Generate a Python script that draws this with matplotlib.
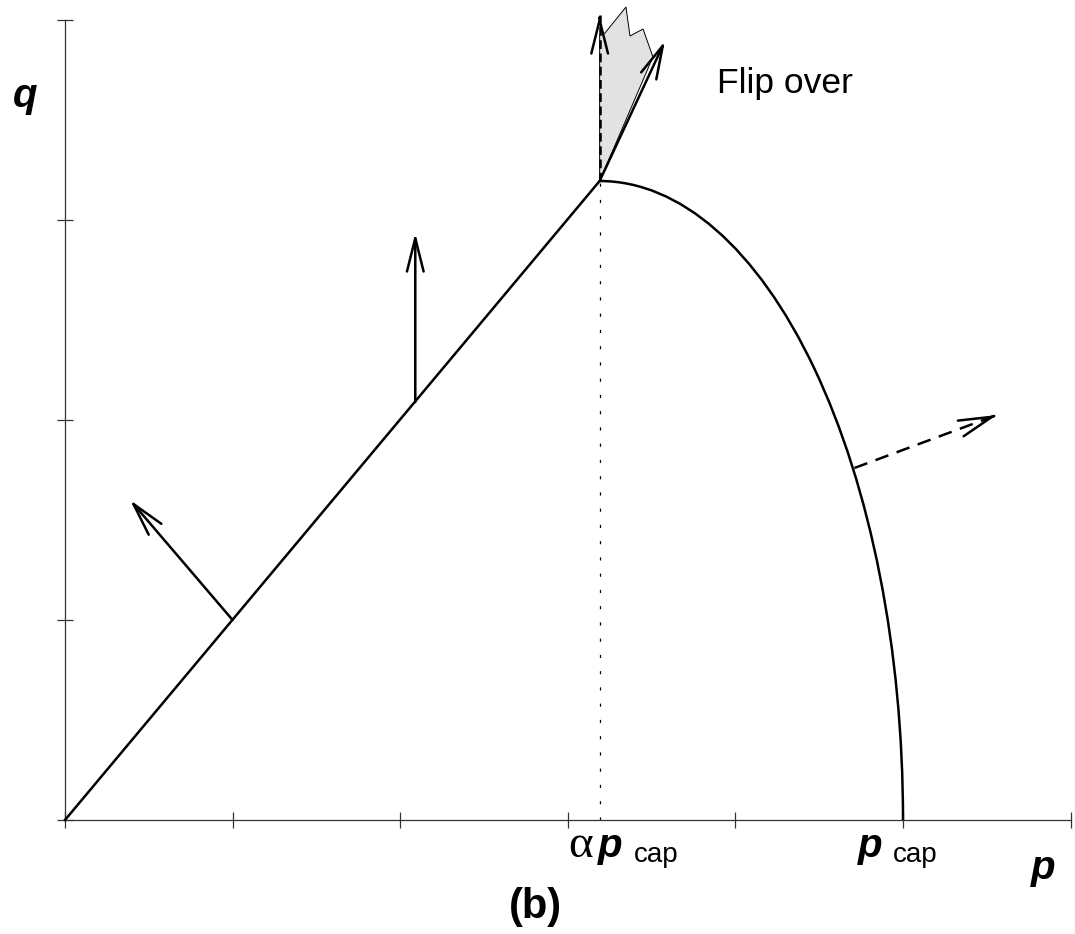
import matplotlib
matplotlib.use("Agg")
import matplotlib.pyplot as plt
from matplotlib.patches import Arc, Polygon, FancyArrowPatch

# chart values (p on x, q on y)
alpha_p = 3.19          # alpha * p_cap
p_cap = 5.0
q_top = 3.195           # q at the apex

x_ticks = [0, 1, 2, 3, 4, 5, 6]
y_ticks = [0, 1, 2, 3, 4]

line_p = [0, alpha_p]
line_q = [0, q_top]

# shaded "flip over" fan above the apex
fan_p = [3.19, 3.19, 3.222, 3.347, 3.371, 3.449, 3.508]
fan_q = [3.195, 3.925, 3.935, 4.065, 3.92, 3.955, 3.815]

# arrows: (start, end, dashed)
arrows = [
    ((1.0, 1.0), (0.388, 1.60), False),
    ((2.09, 2.09), (2.09, 2.935), False),
    ((3.19, 3.195), (3.58, 3.895), False),
    ((3.19, 3.195), (3.19, 4.025), True),
    ((4.71, 1.76), (5.56, 2.025), True),
]

fig = plt.figure(figsize=(10.75, 9.34), dpi=100)
ax = fig.add_axes([0, 0, 1, 1])
ax.set_xlim(-65 / 167.6, 1010 / 167.6)
ax.set_ylim(-114 / 200, 820 / 200)
ax.set_facecolor("white")

axis_col = "#333333"
for side in ["top", "right"]:
    ax.spines[side].set_visible(False)
ax.spines["left"].set_position(("data", 0))
ax.spines["bottom"].set_position(("data", 0))
ax.spines["left"].set_bounds(0, 4)
ax.spines["bottom"].set_bounds(0, 6)
for side in ["left", "bottom"]:
    ax.spines[side].set_color(axis_col)
    ax.spines[side].set_linewidth(0.9)
ax.set_xticks(x_ticks)
ax.set_yticks(y_ticks)
ax.tick_params(direction="inout", length=11.5, width=0.9, color=axis_col,
               labelbottom=False, labelleft=False)

# dotted guide at alpha*p_cap
ax.plot([alpha_p, alpha_p], [0, q_top], color="black", lw=0.9,
        linestyle=(0, (2.5, 10.5)))

# fan
ax.add_patch(Polygon(list(zip(fan_p, fan_q)), closed=True, facecolor="#e2e2e2",
                     edgecolor="black", lw=0.7, zorder=2))

# yield surface: straight line + quarter ellipse
ax.plot(line_p, line_q, color="black", lw=1.8, zorder=3)
ax.add_patch(Arc((alpha_p, 0), 2 * (p_cap - alpha_p), 2 * q_top,
                 theta1=0, theta2=90, color="black", lw=1.8, zorder=3))

head = "->, head_length=24, head_width=6"
for (x0, y0), (x1, y1), dashed in arrows:
    if dashed:
        dash = (5.5, 3.5) if y1 - y0 < 0.5 else (3.5, 1.8)
        ax.plot([x0, x1], [y0, y1], color="black", lw=1.8,
                linestyle=(0, dash), zorder=4)
        # solid head on a short piece near the tip
        t = 0.02
        ax.add_patch(FancyArrowPatch((x1 - t * (x1 - x0), y1 - t * (y1 - y0)), (x1, y1),
                                     arrowstyle=head, mutation_scale=1, color="black",
                                     lw=1.8, shrinkA=0, shrinkB=0, zorder=4))
    else:
        ax.add_patch(FancyArrowPatch((x0, y0), (x1, y1), arrowstyle=head,
                                     mutation_scale=1, color="black", lw=1.8,
                                     shrinkA=0, shrinkB=0, zorder=4))

sans = "Liberation Sans"
bi = dict(family=sans, fontsize=29, fontweight="bold", fontstyle="italic")
ax.text(-0.239, 3.62, "q", ha="center", va="center", **bi)
ax.text(5.835, -0.24, "p", ha="center", va="center", **bi)
ax.text(3.89, 3.635, "Flip over", family=sans, fontsize=25.5, ha="left", va="baseline")
ax.text(2.804, -0.435, "(b)", family=sans, fontsize=30, fontweight="bold",
        ha="center", va="center")

# alpha p_cap label
ax.text(3.0, -0.185, "\u03b1", family="Liberation Serif", fontsize=34,
        ha="left", va="baseline")
ax.text(3.18, -0.185, "p", ha="left", va="baseline", **bi)
ax.text(3.395, -0.21, "cap", family=sans, fontsize=20, ha="left", va="baseline")

# p_cap label
ax.text(4.731, -0.185, "p", ha="left", va="baseline", **bi)
ax.text(4.94, -0.21, "cap", family=sans, fontsize=20, ha="left", va="baseline")

fig.savefig("out.png", dpi=100)
